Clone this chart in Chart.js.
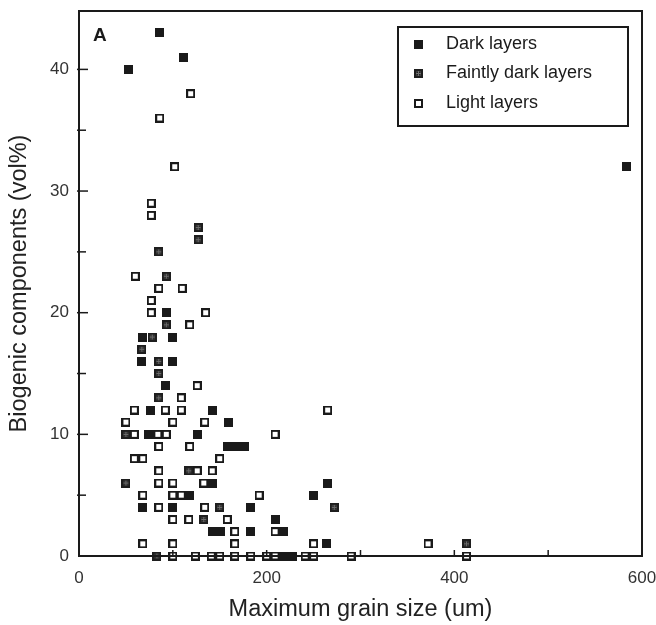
<!DOCTYPE html>
<html><head><meta charset="utf-8">
<script src="https://cdn.jsdelivr.net/npm/chart.js@4.4.1/dist/chart.umd.min.js"></script>
<style>html,body{margin:0;padding:0;background:#fff}#wrap{width:656px;height:625px}</style>
</head><body><div id="wrap"><canvas id="c" width="656" height="625"></canvas></div>
<script>
// ---- data ----
const seriesLabels = ['Dark layers', 'Faintly dark layers', 'Light layers'];
const darkX = [86,111,53,583,93,68,100,67,100,92,76,142,159,74,126,158,167,176,142,265,118,250,68,100,183,209,142,151,183,218,264,219,227];
const darkY = [43,41,40,32,20,18,18,16,16,14,12,12,11,10,10,9,9,9,6,6,5,5,4,4,4,3,2,2,2,2,1,0,0];
const faintX = [127,127,85,93,93,78,67,85,85,85,50,117,50,150,272,133,413,83];
const faintY = [27,26,25,23,19,18,17,16,15,13,10,7,6,4,4,3,1,0];
const lightX = [119,86,102,77,77,60,85,110,77,77,135,118,126,109,59,92,109,265,50,100,134,59,84,93,209,85,118,59,68,150,85,126,142,85,100,133,68,100,109,192,85,134,100,117,158,166,209,68,100,166,250,372,100,124,141,150,166,183,200,209,241,250,290,413];
const lightY = [38,36,32,29,28,23,22,22,21,20,20,19,14,13,12,12,12,12,11,11,11,10,10,10,10,9,9,8,8,8,7,7,7,6,6,6,5,5,5,5,4,4,3,3,3,2,2,1,1,1,1,1,0,0,0,0,0,0,0,0,0,0,0,0];
const xTickLabels = [0, 200, 400, 600];
const yTickLabels = [0, 10, 20, 30, 40];
const xTitle = 'Maximum grain size (um)';
const yTitle = 'Biogenic components (vol%)';
const panelLabel = 'A';

const INK = '#1a1a1a';
const FONT = '"Liberation Sans", Arial, Helvetica, sans-serif';

function marker(kind){
  const c = document.createElement('canvas');
  c.width = 9; c.height = 9;
  const g = c.getContext('2d');
  if (kind === 'dark') {
    g.fillStyle = INK; g.fillRect(0,0,9,9);
  } else if (kind === 'faint') {
    g.fillStyle = '#1e1e1e'; g.fillRect(0,0,9,9);
    g.fillStyle = '#3c3c3c';
    g.fillRect(2,2,5,1); g.fillRect(2,6,5,1); g.fillRect(2,2,1,5); g.fillRect(6,2,1,5);
    g.fillStyle = '#707070';
    g.fillRect(4,2,1,5); g.fillRect(2,4,5,1);
  } else {
    g.fillStyle = '#fff'; g.fillRect(0,0,9,9);
    g.strokeStyle = INK; g.lineWidth = 2; g.strokeRect(1,1,7,7);
  }
  return c;
}
const markers = [marker('dark'), marker('faint'), marker('light')];
const toPts = (xs, ys) => xs.map((x, i) => ({x, y: ys[i]}));

const frameAndTicks = {
  id: 'frameAndTicks',
  afterDatasetsDraw(chart) {
    const {ctx, chartArea: a, scales: {x, y}} = chart;
    ctx.save();
    ctx.strokeStyle = INK; ctx.lineWidth = 2;
    ctx.strokeRect(a.left, a.top, a.right - a.left, a.bottom - a.top);
    ctx.lineWidth = 1.5;
    y.ticks.forEach(t => {
      if (t.value <= 0 || t.value >= y.max) return;
      const py = y.getPixelForValue(t.value);
      const len = t.value % 10 === 0 ? 9 : 7;
      ctx.beginPath(); ctx.moveTo(a.left - 2, py); ctx.lineTo(a.left + len, py); ctx.stroke();
    });
    x.ticks.forEach(t => {
      if (t.value <= 0 || t.value >= x.max) return;
      const px = x.getPixelForValue(t.value);
      ctx.beginPath(); ctx.moveTo(px, a.bottom); ctx.lineTo(px, a.bottom - 6); ctx.stroke();
    });
    // panel label
    ctx.fillStyle = INK;
    ctx.font = 'bold 19px ' + FONT;
    ctx.textBaseline = 'alphabetic'; ctx.textAlign = 'left';
    ctx.fillText(panelLabel, a.left + 14, a.top + 30);
    // legend box
    const L = a.right - 244, T = a.top + 16, W = 230, H = 99;
    ctx.lineWidth = 2;
    ctx.fillStyle = '#fff';
    ctx.fillRect(L, T, W, H);
    ctx.strokeRect(L, T, W, H);
    ctx.font = '18px ' + FONT;
    ctx.textBaseline = 'middle';
    chart.data.datasets.forEach((ds, i) => {
      const cy = T + 17 + i * 29.5;
      const m = ds.pointStyle;
      ctx.drawImage(m, Math.round(L + 20 - m.width / 2), Math.round(cy - m.height / 2));
      ctx.fillStyle = INK;
      ctx.fillText(ds.label, L + 48, cy);
    });
    ctx.restore();
  }
};

new Chart(document.getElementById('c'), {
  type: 'scatter',
  data: {
    datasets: [
      {label: seriesLabels[0], data: toPts(darkX, darkY), pointStyle: markers[0]},
      {label: seriesLabels[1], data: toPts(faintX, faintY), pointStyle: markers[1]},
      {label: seriesLabels[2], data: toPts(lightX, lightY), pointStyle: markers[2]}
    ].map(d => Object.assign(d, {clip: false, pointRadius: 5, pointHoverRadius: 5}))
  },
  options: {
    responsive: false, animation: false, devicePixelRatio: 1,
    layout: {padding: {left: 0, right: 14, top: 11, bottom: 0}},
    plugins: {legend: {display: false}, tooltip: {enabled: false}},
    scales: {
      x: {
        type: 'linear', min: 0, max: 600,
        grid: {display: false, drawTicks: false},
        border: {display: true, color: INK, width: 2},
        ticks: {stepSize: 100, autoSkip: false, maxRotation: 0, padding: 12,
          color: '#333', font: {family: FONT, size: 17},
          callback: v => xTickLabels.includes(v) ? String(v) : ''},
        title: {display: true, text: xTitle, color: '#222',
          font: {family: FONT, size: 23.5}, padding: {top: 0, bottom: 1}},
        afterFit: s => { s.height = 69; s.paddingLeft = 0; s.paddingRight = 0; }
      },
      y: {
        type: 'linear', min: 0, max: 44.8,
        grid: {display: false, drawTicks: false},
        border: {display: true, color: INK, width: 2},
        ticks: {stepSize: 5, autoSkip: false, padding: 10,
          color: '#333', font: {family: FONT, size: 17},
          callback: v => yTickLabels.includes(v) ? String(v) : ''},
        afterBuildTicks: s => { s.ticks = s.ticks.filter(t => t.value % 5 === 0); },
        title: {display: true, text: yTitle, color: '#222',
          font: {family: FONT, size: 23.5}, padding: {top: 5, bottom: 0}},
        afterFit: s => { s.width = 79; s.paddingTop = 0; s.paddingBottom = 0; }
      }
    }
  },
  plugins: [frameAndTicks]
});
</script></body></html>
